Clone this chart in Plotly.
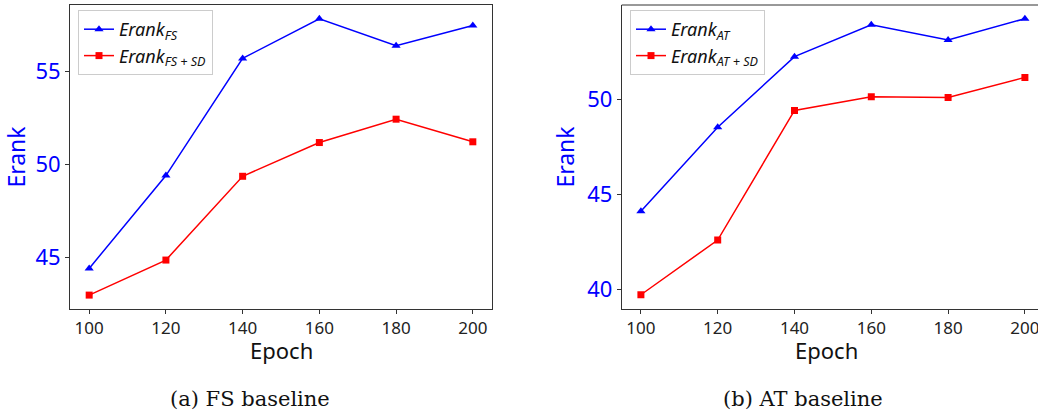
import plotly.graph_objects as go

epochs = [100, 120, 140, 160, 180, 200]
fs_erank = [44.39, 49.40, 55.72, 57.86, 56.40, 57.49]
fs_sd_erank = [42.95, 44.84, 49.36, 51.18, 52.44, 51.22]
at_erank = [44.10, 48.52, 52.23, 53.91, 53.11, 54.23]
at_sd_erank = [39.70, 42.58, 49.40, 50.12, 50.08, 51.14]
x_ticks = [100, 120, 140, 160, 180, 200]
captions = ["(a) FS baseline", "(b) AT baseline"]

W, H = 1038, 415
TICKFONT = "Noto Sans"
BLUE = "#0000ff"
RED = "#ff0000"

fig = go.Figure()

def add_pair(xa, ya, legend, y1, y2, n1, n2):
    fig.add_trace(go.Scatter(x=epochs, y=y1, name=n1, mode="lines+markers",
                             line=dict(color=BLUE, width=1.5),
                             marker=dict(symbol="triangle-up", size=8, color=BLUE),
                             xaxis=xa, yaxis=ya, legend=legend))
    fig.add_trace(go.Scatter(x=epochs, y=y2, name=n2, mode="lines+markers",
                             line=dict(color=RED, width=1.5),
                             marker=dict(symbol="square", size=7, color=RED),
                             xaxis=xa, yaxis=ya, legend=legend))

add_pair("x", "y", "legend", fs_erank, fs_sd_erank,
         "<i>Erank</i><sub><i>FS</i></sub>", "<i>Erank</i><sub><i>FS + SD</i></sub>")
add_pair("x2", "y2", "legend2", at_erank, at_sd_erank,
         "<i>Erank</i><sub><i>AT</i></sub>", "<i>Erank</i><sub><i>AT + SD</i></sub>")

ydom = [1 - 309 / H, 1 - 5 / H]

def xaxis(domain, rng, mirror, anchor):
    return dict(domain=domain, range=rng, anchor=anchor, tickvals=x_ticks, ticks="outside", ticklen=4,
                tickcolor="#333", showline=True, linecolor="#333", linewidth=1, mirror=mirror,
                showgrid=False, zeroline=False, ticklabeloverflow="allow",
                tickfont=dict(family=TICKFONT, size=17, color="#222"))

def yaxis(anchor, rng, dtick, mirror):
    return dict(domain=ydom, range=rng, anchor=anchor, dtick=dtick, ticks="outside", ticklen=4,
                tickcolor="#333", showline=True, linecolor="#333", linewidth=1, mirror=mirror,
                showgrid=False, zeroline=False,
                tickfont=dict(family=TICKFONT, size=22, color=BLUE),
                title=dict(text="Erank", font=dict(family=TICKFONT, size=23, color=BLUE), standoff=6))

legend_common = dict(xanchor="left", yanchor="top",
                     bgcolor="rgba(255,255,255,0.8)", bordercolor="#cccccc", borderwidth=1,
                     font=dict(family=TICKFONT, size=18, color="#111"), tracegroupgap=0)

fig.update_layout(
    width=W, height=H, margin=dict(l=0, r=0, t=0, b=0),
    paper_bgcolor="white", plot_bgcolor="white",
    xaxis=xaxis([70 / W, 492 / W], [95, 205], True, "y"),
    yaxis=yaxis("x", [42.2, 58.6], 5, True),
    xaxis2=xaxis([621.7 / W, 1.0], [95, 95 + (W - 621.7) / 3.84], False, "y2"),
    yaxis2=yaxis("x2", [38.95, 54.95], 5, False),
    legend=dict(x=78 / W, y=1 - 10 / H, **legend_common),
    legend2=dict(x=630 / W, y=1 - 10 / H, **legend_common),
    showlegend=True,
)

# top spine for right panel (its right spine is cut off in the reference)
fig.add_shape(type="line", xref="x2 domain", yref="y2 domain", x0=0, x1=1, y0=1, y1=1,
              line=dict(color="#333", width=1))

# x-axis titles
for cx in [281 / W, 826 / W]:
    fig.add_annotation(x=cx, y=1 - 350 / H, xref="paper", yref="paper", text="Epoch",
                       showarrow=False, xanchor="center", yanchor="middle",
                       font=dict(family=TICKFONT, size=22, color="#111"))

for cx, text in zip([250 / W, 803 / W], captions):
    fig.add_annotation(x=cx, y=1 - 399 / H, xref="paper", yref="paper", text=text,
                       showarrow=False, xanchor="center", yanchor="middle",
                       font=dict(family="DejaVu Serif", size=21, color="#111"))

fig.write_html("out.html", config={"displayModeBar": False},
               post_script="document.body.style.margin='0';document.body.style.overflow='hidden';")
